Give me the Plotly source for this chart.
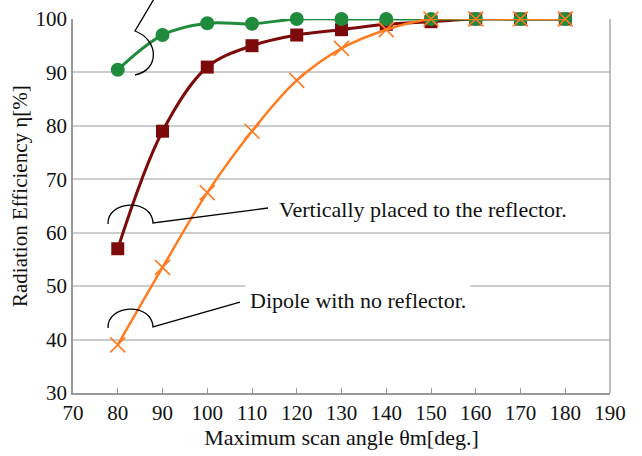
import plotly.graph_objects as go

# ---- data ----
angles = [80, 90, 100, 110, 120, 130, 140, 150, 160, 170, 180]
eff_parallel = [90.5, 97.0, 99.2, 99.1, 100.0, 100.0, 100.0, 100.0, 100.0, 100.0, 100.0]
eff_vertical = [57.0, 79.0, 91.0, 95.0, 97.0, 98.0, 99.0, 99.5, 100.0, 100.0, 100.0]
eff_dipole = [39.0, 53.5, 67.5, 79.0, 88.5, 94.5, 98.0, 100.0, 100.0, 100.0, 100.0]

x_ticks = list(range(70, 191, 10))
y_ticks = list(range(30, 101, 10))

label_vertical = "Vertically placed to the reflector."
label_dipole = "Dipole with no reflector."
x_title = "Maximum scan angle θm[deg.]"
y_title = "Radiation Efficiency η[%]"

W, H = 642, 456
L, R, T, B = 73, 32, 19, 63

FONT = "Liberation Serif, Times New Roman, serif"

def px(X, Y):
    return "%.4f,%.4f" % ((X - L) / (W - L - R), ((H - B) - Y) / (H - T - B))

def pxx(X):
    return (X - L) / (W - L - R)

def pxy(Y):
    return ((H - B) - Y) / (H - T - B)

fig = go.Figure()

fig.add_trace(go.Scatter(
    x=angles, y=eff_vertical, mode="lines+markers",
    line=dict(color="#7d0a0a", width=3, shape="spline", smoothing=1.0),
    marker=dict(symbol="square", size=13, color="#7d0a0a"),
    cliponaxis=False, showlegend=False))

fig.add_trace(go.Scatter(
    x=angles, y=eff_parallel, mode="lines+markers",
    line=dict(color="#1f8b3b", width=3, shape="spline", smoothing=1.0),
    marker=dict(symbol="circle", size=14, color="#1f8b3b"),
    cliponaxis=False, showlegend=False))

fig.add_trace(go.Scatter(
    x=angles, y=eff_dipole, mode="lines+markers",
    line=dict(color="#ff7b22", width=2.5, shape="spline", smoothing=1.0),
    marker=dict(symbol="x-thin", size=15, line=dict(color="#ff7b22", width=1.6)),
    cliponaxis=False, showlegend=False))

# bracket decorations
bk = dict(color="black", width=1.3)
fig.add_shape(type="path", xref="paper", yref="paper", line=bk,
              path="M %s L %s C %s %s %s" % (px(154, -1), px(135, 31), px(159, 40), px(160, 70), px(135, 75)))
fig.add_shape(type="path", xref="paper", yref="paper", line=bk,
              path="M %s C %s %s %s L %s" % (px(108, 224), px(107, 200), px(152, 198), px(153, 223), px(268, 208)))
fig.add_shape(type="path", xref="paper", yref="paper", line=bk,
              path="M %s C %s %s %s L %s" % (px(108, 328), px(107, 304), px(152, 302), px(153, 327), px(240, 302)))

fig.add_annotation(x=pxx(277), y=pxy(209), xref="paper", yref="paper",
                   text=label_vertical, showarrow=False, xanchor="left", yanchor="middle",
                   font=dict(family=FONT, size=22, color="#111"))
fig.add_annotation(x=pxx(245), y=pxy(300), xref="paper", yref="paper",
                   text=label_dipole, showarrow=False, xanchor="left", yanchor="middle",
                   bgcolor="white", borderpad=4,
                   font=dict(family=FONT, size=22, color="#111"))

# y-axis title as rotated text
fig.add_annotation(x=pxx(20), y=pxy(196), xref="paper", yref="paper",
                   text=y_title, showarrow=False, textangle=-90,
                   xanchor="center", yanchor="middle",
                   font=dict(family=FONT, size=21, color="#111"))

fig.update_layout(
    width=W, height=H,
    margin=dict(l=L, r=R, t=T, b=B),
    paper_bgcolor="white", plot_bgcolor="white",
    font=dict(family=FONT, size=21, color="#111"),
    xaxis=dict(range=[70, 190], tickvals=x_ticks, ticks="inside", ticklen=5,
               tickcolor="#999", showgrid=False, showline=True, linecolor="#999",
               linewidth=1.5, mirror=False, zeroline=False, automargin=False,
               title=dict(text=x_title, font=dict(size=22), standoff=4),
               tickfont=dict(size=21)),
    yaxis=dict(range=[30, 100], tickvals=y_ticks, ticks="", showgrid=True,
               gridcolor="#cccccc", gridwidth=1.5, showline=True, linecolor="#999",
               linewidth=1.5, zeroline=False, automargin=False,
               tickfont=dict(size=21)),
)
# right border
fig.add_shape(type="line", xref="paper", yref="paper", x0=1, x1=1, y0=0, y1=1,
              line=dict(color="#aaa", width=1.5))

fig.write_html("out.html")
